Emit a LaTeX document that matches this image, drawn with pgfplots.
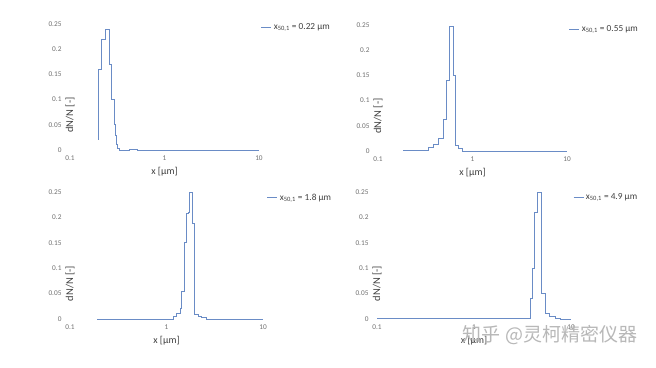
\documentclass[border=0pt]{standalone}
\usepackage{fontspec}
\setmainfont{Carlito}
\newfontfamily\cjk{Noto Sans CJK SC}
\usepackage{pgfplots}
\usepackage{pgfplotstable}
\pgfplotsset{compat=1.18}
\definecolor{linec}{HTML}{6A8CC6}
\definecolor{tickc}{HTML}{707070}
\definecolor{labc}{HTML}{404040}

\pgfplotstableread{
x y
0.200 0.020
0.200 0.160
0.216 0.220
0.239 0.240
0.259 0.170
0.276 0.100
0.294 0.050
0.300 0.030
0.307 0.012
0.314 0.003
0.330 0.000
0.420 0.002
0.520 0.000
10 0.000
}\dataA
\pgfplotstableread{
x y
0.184 0.0015
0.338 0.0066
0.385 0.013
0.431 0.026
0.488 0.063
0.533 0.140
0.569 0.248
0.622 0.150
0.658 0.012
0.703 0.005
0.774 0.000
10 0.000
}\dataB
\pgfplotstableread{
x y
0.192 0.000
1.176 0.005
1.275 0.012
1.380 0.020
1.437 0.054
1.537 0.150
1.592 0.207
1.670 0.210
1.723 0.250
1.836 0.188
1.950 0.010
2.137 0.006
2.317 0.003
2.610 0.000
10 0.000
}\dataC
\pgfplotstableread{
x y
0.100 0.001
0.600 0.0012
1.000 0.001
3.78 0.040
4.01 0.100
4.16 0.210
4.50 0.250
4.97 0.050
5.40 0.012
5.93 0.005
6.84 0.002
7.71 0.000
10 0.000
}\dataD

\pgfplotsset{
  mypanel/.style={
    scale only axis, xmin=0.1, xmax=10, ymin=0, ymax=0.25,
    clip=false,
    axis line style={draw=none}, tick style={draw=none},
    xtick={0.1,1,10}, xticklabels={0.1,1,10},
    ytick={0,0.05,0.1,0.15,0.2,0.25},
    yticklabels={0,0.05,0.1,0.15,0.2,0.25},
    /pgf/number format/assume math mode=true,
    ticklabel style={font=\fontsize{7.3}{8}\selectfont, text=tickc},
    xticklabel style={yshift=-2.5pt},
    yticklabel style={xshift=-5pt},
    xlabel={x [µm]}, ylabel={dN/N [-]},
    xlabel style={at={(axis description cs:0.5,0)}, anchor=center, yshift=-22pt, font=\fontsize{10}{11}\selectfont, text=labc},
    ylabel style={at={(axis description cs:0,0.5)}, anchor=center, xshift=-28pt, font=\fontsize{10.5}{11}\selectfont, text=labc},
    legend style={draw=none, fill=none, inner sep=0pt, font=\fontsize{9.3}{10}\selectfont, text=labc},
    legend image code/.code={\draw[#1] (0pt,0pt) -- (10pt,0pt);},
    legend cell align=left,
  },
  stairs/.style={const plot, color=linec, line width=0.75pt, no marks},
}

\begin{document}
\begin{tikzpicture}
\path[use as bounding box, fill=white] (0pt,0pt) rectangle (656pt,367pt);

\begin{axis}[xmode=log, mypanel, at={(70pt,217pt)}, anchor=south west, width=189pt, height=126pt,
  legend style={at={(axis description cs:1.01,0.976)}, anchor=west}]
\addplot[stairs] table {\dataA};
\addlegendentry{x\textsubscript{50,1} = 0.22 µm}
\end{axis}

\begin{axis}[xmode=log, mypanel, at={(378pt,216pt)}, anchor=south west, width=189pt, height=126pt,
  legend style={at={(axis description cs:1.01,0.968)}, anchor=west}]
\addplot[stairs] table {\dataB};
\addlegendentry{x\textsubscript{50,1} = 0.55 µm}
\end{axis}

\begin{axis}[xmode=log, mypanel, at={(70pt,48pt)}, anchor=south west, width=193pt, height=127pt,
  legend style={at={(axis description cs:1.02,0.955)}, anchor=west}]
\addplot[stairs] table {\dataC};
\addlegendentry{x\textsubscript{50,1} = 1.8 µm}
\end{axis}

\begin{axis}[xmode=log, mypanel, at={(377pt,48pt)}, anchor=south west, width=194pt, height=127pt,
  legend style={at={(axis description cs:1.01,0.96)}, anchor=west}]
\addplot[stairs] table {\dataD};
\addlegendentry{x\textsubscript{50,1} = 4.9 µm}
\end{axis}

\node[anchor=center, text=black!28, font=\cjk\fontsize{19}{20}\selectfont] at (550pt,32pt) {知乎 @灵柯精密仪器};
\end{tikzpicture}
\end{document}
